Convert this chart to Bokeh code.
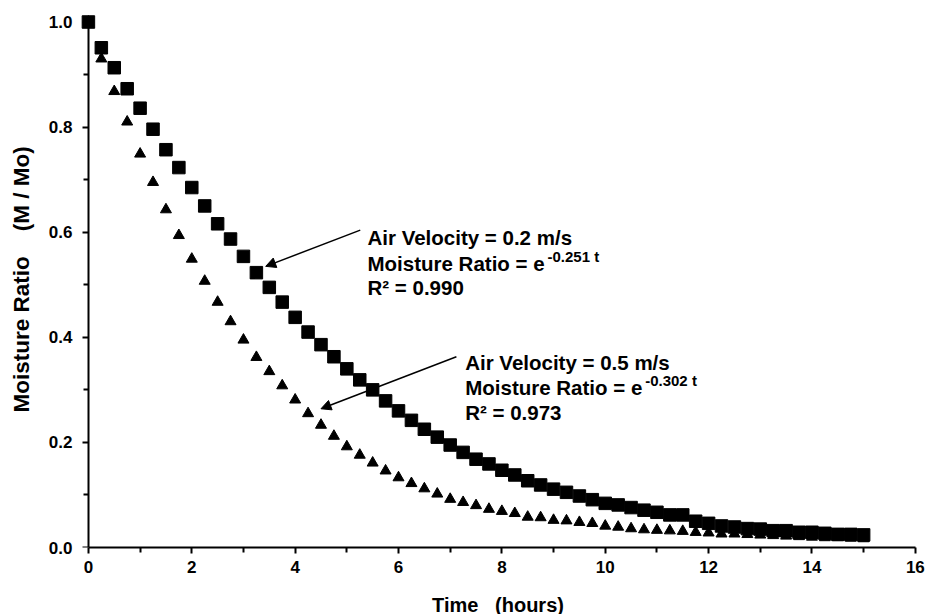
from bokeh.plotting import figure
from bokeh.models import (Range1d, Label, Arrow, NormalHead, ColumnDataSource, FixedTicker,
                          PrintfTickFormatter, LinearAxis)
from bokeh.embed import file_html
from bokeh.resources import INLINE

# ---------------- data ----------------
time_h = [0.0, 0.25, 0.5, 0.75, 1.0, 1.25, 1.5, 1.75, 2.0, 2.25, 2.5, 2.75,
          3.0, 3.25, 3.5, 3.75, 4.0, 4.25, 4.5, 4.75, 5.0, 5.25, 5.5, 5.75,
          6.0, 6.25, 6.5, 6.75, 7.0, 7.25, 7.5, 7.75, 8.0, 8.25, 8.5, 8.75,
          9.0, 9.25, 9.5, 9.75, 10.0, 10.25, 10.5, 10.75, 11.0, 11.25, 11.5, 11.75,
          12.0, 12.25, 12.5, 12.75, 13.0, 13.25, 13.5, 13.75, 14.0, 14.25, 14.5, 14.75,
          15.0]

# Air velocity 0.2 m/s (squares)
mr_v02 = [1.000, 0.951, 0.913, 0.873, 0.836, 0.796, 0.757, 0.723, 0.685, 0.650, 0.616, 0.587,
          0.554, 0.523, 0.495, 0.467, 0.438, 0.410, 0.386, 0.363, 0.340, 0.319, 0.300, 0.279,
          0.260, 0.242, 0.225, 0.210, 0.195, 0.181, 0.168, 0.159, 0.147, 0.138, 0.127, 0.119,
          0.111, 0.105, 0.098, 0.091, 0.084, 0.081, 0.076, 0.071, 0.067, 0.062, 0.062, 0.050,
          0.046, 0.041, 0.039, 0.036, 0.035, 0.032, 0.032, 0.029, 0.029, 0.027, 0.025, 0.025,
          0.024]

# Air velocity 0.5 m/s (triangles)
mr_v05 = [1.000, 0.930, 0.868, 0.810, 0.749, 0.695, 0.643, 0.594, 0.549, 0.507, 0.467, 0.430,
          0.395, 0.362, 0.335, 0.308, 0.281, 0.255, 0.233, 0.212, 0.192, 0.176, 0.161, 0.146,
          0.133, 0.122, 0.112, 0.102, 0.092, 0.086, 0.080, 0.073, 0.069, 0.065, 0.058, 0.057,
          0.052, 0.051, 0.048, 0.046, 0.041, 0.039, 0.036, 0.034, 0.033, 0.032, 0.031, 0.029,
          0.028, 0.026, 0.026, 0.025, 0.024, 0.023, 0.022, 0.021, 0.020, 0.019, 0.019, 0.018,
          0.017]

x_ticks = [0, 2, 4, 6, 8, 10, 12, 14, 16]
x_minor = [1, 3, 5, 7, 9, 11, 13, 15]
y_ticks = [0.0, 0.2, 0.4, 0.6, 0.8, 1.0]
y_minor = [0.1, 0.3, 0.5, 0.7, 0.9]

ann1_lines = ["Air Velocity = 0.2 m/s", "Moisture Ratio = e", "R\u00b2 = 0.990"]
ann1_sup = "-0.251 t"
ann2_lines = ["Air Velocity = 0.5 m/s", "Moisture Ratio = e", "R\u00b2 = 0.973"]
ann2_sup = "-0.302 t"

FONT = "Liberation Sans"

# ---------------- figure ----------------
p = figure(frame_width=845, frame_height=536,
           min_border_left=75, min_border_right=7, min_border_top=11, min_border_bottom=67,
           x_range=Range1d(-0.25, 16.1), y_range=Range1d(0.0, 1.02),
           output_backend="svg", toolbar_location=None)
p.outline_line_color = None
p.xgrid.visible = False
p.ygrid.visible = False
p.background_fill_color = "white"
p.border_fill_color = "white"

src = ColumnDataSource(dict(t=time_h, a=mr_v02, b=mr_v05))
p.scatter("t", "b", source=src, marker="triangle", size=11, fill_color="black", line_color="black")
p.scatter("t", "a", source=src, marker="square", size=12.5, fill_color="black", line_color="black")

xa = p.xaxis[0]
ya = p.yaxis[0]
xa.ticker = FixedTicker(ticks=x_ticks, minor_ticks=x_minor)
ya.ticker = FixedTicker(ticks=y_ticks, minor_ticks=y_minor)
ya.formatter = PrintfTickFormatter(format="%.1f")
xa.bounds = (0, 16)
ya.bounds = (0, 1)

for ax in (xa, ya):
    ax.axis_line_width = 2
    ax.axis_line_color = "black"
    ax.major_tick_line_width = 2
    ax.minor_tick_line_width = 2
    ax.major_tick_line_color = "black"
    ax.minor_tick_line_color = "black"
    ax.major_tick_out = 6
    ax.major_tick_in = 0
    ax.minor_tick_out = 5
    ax.minor_tick_in = 0
    ax.major_label_text_font = FONT
    ax.major_label_text_font_style = "bold"
    ax.major_label_text_font_size = "17px"
    ax.major_label_text_color = "black"
    ax.axis_label_text_font = FONT
    ax.axis_label_text_font_style = "bold"
    ax.axis_label_text_color = "black"

# the labelled y axis sits at the frame edge; its line/ticks are drawn by a second axis at x = 0
ya.axis_line_color = None
ya.major_tick_line_color = None
ya.minor_tick_line_color = None
ya.major_tick_out = 0
ya.minor_tick_out = 0
ya.major_label_standoff = 3

xa.major_label_standoff = 7
xa.axis_label = "Time\u00a0\u00a0\u00a0(hours)"
xa.axis_label_text_font_size = "20px"
xa.axis_label_standoff = 18
ya.axis_label = "Moisture Ratio\u00a0\u00a0\u00a0\u00a0(M / Mo)"
ya.axis_label_text_font_size = "22.5px"
ya.axis_label_standoff = 12

y_line_axis = LinearAxis(ticker=FixedTicker(ticks=y_ticks, minor_ticks=y_minor),
                         fixed_location=0, bounds=(0, 1),
                         axis_line_width=2, axis_line_color="black",
                         major_tick_line_width=2, minor_tick_line_width=2,
                         major_tick_line_color="black", minor_tick_line_color="black",
                         major_tick_out=6, major_tick_in=0, minor_tick_out=5, minor_tick_in=0,
                         major_label_text_color=None, major_label_text_font_size="1px",
                         major_label_standoff=0)
p.add_layout(y_line_axis, "left")

# ---------------- annotations ----------------
def add_block(x0, baselines, lines, sup):
    for yy, txt in zip(baselines, lines):
        p.add_layout(Label(x=x0, y=yy, text=txt, text_font=FONT, text_font_style="bold",
                           text_font_size="20.5px", text_color="black",
                           text_baseline="alphabetic", text_align="left"))
    p.add_layout(Label(x=x0, y=baselines[1], x_offset=180, y_offset=6.5, text=sup,
                       text_font=FONT, text_font_style="bold", text_font_size="15px",
                       text_color="black", text_baseline="alphabetic", text_align="left"))

add_block(5.40, [0.589, 0.541, 0.494], ann1_lines, ann1_sup)
add_block(7.29, [0.352, 0.305, 0.257], ann2_lines, ann2_sup)

p.add_layout(Arrow(x_start=5.26, y_start=0.604, x_end=3.43, y_end=0.535, line_width=1.5,
                   line_color="black",
                   end=NormalHead(size=10, fill_color="black", line_color="black", line_width=1)))
p.add_layout(Arrow(x_start=7.12, y_start=0.363, x_end=4.50, y_end=0.264, line_width=1.5,
                   line_color="black",
                   end=NormalHead(size=10, fill_color="black", line_color="black", line_width=1)))

open("out.html", "w").write(file_html(p, INLINE))
